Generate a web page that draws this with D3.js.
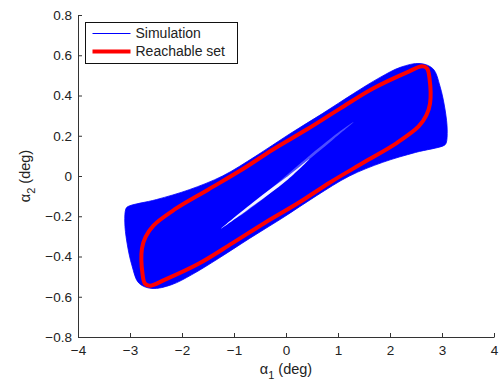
<!DOCTYPE html>
<html>
<head>
<meta charset="utf-8">
<script src="https://cdn.jsdelivr.net/npm/d3@7"></script>
<style>
  body { margin: 0; background: #fff; }
  svg text { font-family: "Liberation Sans", Arial, Helvetica, sans-serif; fill: #222; }
</style>
</head>
<body>
<svg width="500" height="385"></svg>
<script>
// envelope of all simulated trajectories (alpha1, alpha2), clockwise
var simEnvelope = [
  [-3.04, -0.152], [-2.49, -0.117], [-1.86, -0.068], [-1.22, 0.0], [-0.58, 0.099],
  [0.07, 0.209], [0.70, 0.31], [1.30, 0.41], [1.81, 0.49], [2.2, 0.54],
  [2.58, 0.559], [2.83, 0.532], [2.96, 0.447], [3.06, 0.328], [3.10, 0.229],
  [3.08, 0.164], [3.04, 0.152], [2.49, 0.117], [1.86, 0.068], [1.22, 0.0],
  [0.58, -0.099], [-0.07, -0.209], [-0.70, -0.31], [-1.30, -0.41], [-1.81, -0.49],
  [-2.2, -0.54], [-2.58, -0.559], [-2.83, -0.532], [-2.96, -0.447], [-3.06, -0.328],
  [-3.10, -0.229], [-3.08, -0.164]
];

// gaps left between trajectories near the centre
var gapOuter = [
  [-0.9, -0.2], [-0.3, -0.065], [0.4, 0.09], [1.0, 0.215], [1.3, 0.268],
  [0.9, 0.18], [0.3, 0.05], [-0.4, -0.105]
];
var gapInner = [
  [-1.25, -0.262], [-0.6, -0.124], [0.0, -0.008], [0.45, 0.085],
  [0.0, -0.025], [-0.6, -0.142]
];

// reachable set boundary, clockwise
var reachSet = [
  [-2.55, -0.246], [-2.135, -0.165], [-1.5, -0.068], [-0.846, 0.032], [-0.25, 0.132],
  [0.404, 0.232], [1.038, 0.335], [1.673, 0.435], [2.327, 0.515], [2.615, 0.545],
  [2.712, 0.535], [2.76, 0.485], [2.77, 0.36], [2.70, 0.303], [2.55, 0.246],
  [2.135, 0.165], [1.5, 0.068], [0.846, -0.032], [0.25, -0.132], [-0.404, -0.232],
  [-1.038, -0.335], [-1.673, -0.435], [-2.327, -0.515], [-2.615, -0.545], [-2.712, -0.535],
  [-2.76, -0.485], [-2.77, -0.36], [-2.70, -0.303]
];

var xTicks = [-4, -3, -2, -1, 0, 1, 2, 3, 4];
var yTicks = [-0.8, -0.6, -0.4, -0.2, 0, 0.2, 0.4, 0.6, 0.8];
var legendItems = ["Simulation", "Reachable set"];

var svg = d3.select("svg");
var margin = { top: 15, right: 6, bottom: 48, left: 78 },
  width = +svg.attr("width") - margin.left - margin.right,
  height = +svg.attr("height") - margin.top - margin.bottom;

var g = svg.append("g")
  .attr("transform", "translate(" + margin.left + "," + margin.top + ")");

var x = d3.scaleLinear().domain([-4, 4]).range([0, width]);
var y = d3.scaleLinear().domain([-0.8, 0.8]).range([height, 0]);

var line = d3.line()
  .x(function (d) { return x(d[0]); })
  .y(function (d) { return y(d[1]); })
  .curve(d3.curveCatmullRomClosed.alpha(0.5));

g.append("path")
  .attr("d", line(simEnvelope))
  .attr("fill", "#0000ff")
  .attr("stroke", "#0000ff")
  .attr("stroke-width", 0.8);

g.append("path")
  .attr("d", line(gapOuter))
  .attr("fill", "#fff")
  .attr("opacity", 0.3);

g.append("path")
  .attr("d", line(gapInner))
  .attr("fill", "#fff")
  .attr("opacity", 0.95);

g.append("path")
  .attr("d", line(reachSet))
  .attr("fill", "none")
  .attr("stroke", "#ff0000")
  .attr("stroke-width", 4)
  .attr("stroke-linejoin", "round");

// axes, MATLAB style: inward ticks, no box
var fmt = function (d) { return d === 0 ? "0" : d3.format(Math.abs(d) < 1 && d % 1 !== 0 ? ".1f" : "d")(d); };

var xAxis = g.append("g")
  .attr("transform", "translate(0," + height + ")")
  .call(d3.axisBottom(x).tickValues(xTicks).tickSizeInner(-4).tickSizeOuter(0).tickPadding(8).tickFormat(fmt));

var yAxis = g.append("g")
  .call(d3.axisLeft(y).tickValues(yTicks).tickSizeInner(-4).tickSizeOuter(0).tickPadding(6).tickFormat(fmt));

[xAxis, yAxis].forEach(function (a) {
  a.select(".domain").attr("stroke", "#333").attr("stroke-width", 1);
  a.selectAll(".tick line").attr("stroke", "#333");
  a.selectAll(".tick text")
    .attr("font-size", 13.5)
    .attr("font-family", "Liberation Sans, Arial, sans-serif")
    .attr("fill", "#222");
});
xAxis.selectAll(".tick text").attr("dy", "0.75em");

// axis labels with greek letter + subscript
var xl = svg.append("text")
  .attr("x", margin.left + x(0))
  .attr("y", 374)
  .attr("text-anchor", "middle")
  .attr("font-size", 14.5);
xl.append("tspan").text("α");
xl.append("tspan").attr("font-size", 11).attr("dy", 5).text("1");
xl.append("tspan").attr("dy", -5).text(" (deg)");

var yl = svg.append("text")
  .attr("transform", "translate(30," + (margin.top + y(0)) + ") rotate(-90)")
  .attr("text-anchor", "middle")
  .attr("font-size", 14.5);
yl.append("tspan").text("α");
yl.append("tspan").attr("font-size", 11).attr("dy", 5).text("2");
yl.append("tspan").attr("dy", -5).text(" (deg)");

// legend
var lg = svg.append("g").attr("transform", "translate(85.5,22.5)");
lg.append("rect")
  .attr("width", 152).attr("height", 41)
  .attr("fill", "#fff").attr("stroke", "#111").attr("stroke-width", 1);

var li = lg.selectAll("g.item")
  .data(legendItems)
  .enter().append("g")
  .attr("transform", function (d, i) { return "translate(0," + (11 + i * 18) + ")"; });

li.append("line")
  .attr("x1", 7).attr("x2", 45)
  .attr("stroke", function (d, i) { return i === 0 ? "#0000ff" : "#ff0000"; })
  .attr("stroke-width", function (d, i) { return i === 0 ? 1 : 4; });

li.append("text")
  .attr("x", 50).attr("dy", "0.35em")
  .attr("font-size", 14)
  .text(function (d) { return d; });
</script>
</body>
</html>
